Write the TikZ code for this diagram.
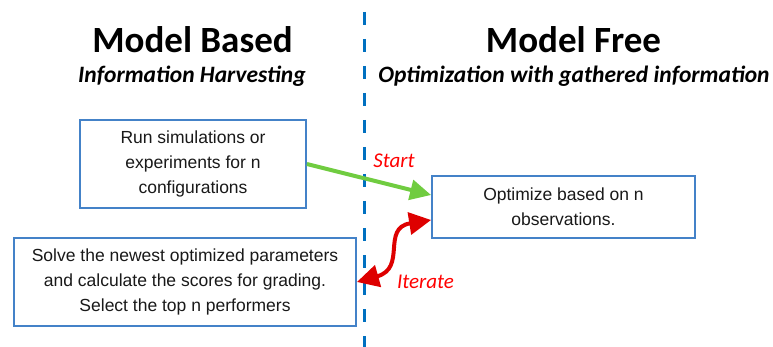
\documentclass[tikz,border=0pt]{standalone}
\usepackage{fontspec}
\setmainfont{Liberation Sans}
\newfontfamily\calibri{Carlito}
\usepackage{xcolor}
\usepackage{tikz}
\usetikzlibrary{arrows.meta, calc}

\definecolor{boxblue}{RGB}{68,130,200}
\definecolor{dashblue}{RGB}{0,112,192}
\definecolor{startgreen}{RGB}{112,204,64}
\definecolor{iterred}{RGB}{222,0,0}

\begin{document}
\begin{tikzpicture}[
    x=1pt, y=1pt,
    heading/.style={anchor=base, font=\calibri\bfseries\fontsize{37}{40}\selectfont},
    subheading/.style={anchor=base, font=\calibri\bfseries\itshape\fontsize{23.5}{28}\selectfont},
    block/.style={rectangle, draw=boxblue, line width=1.8pt, fill=white, align=center, inner sep=0pt,
        font=\fontsize{17.5}{25}\selectfont, text=black!90},
    redlabel/.style={anchor=base, text=red, font=\calibri\itshape\fontsize{21}{24}\selectfont},
    line/.style={draw, line width=4pt, -{Triangle[length=21pt,width=20pt]}}
]
\useasboundingbox (0,0) rectangle (773,-347);

% divider
\draw [dashblue, line width=3pt, dash pattern=on 13pt off 14pt] (364.5,-12) -- (364.5,-347);

% Model Based side
\node [heading] (mb) at (192.5,-53) {Model Based};
\node [subheading] (mbsub) at (192,-83) {Information Harvesting};

% Model Free side
\node [heading] (mf) at (573.5,-53) {Model Free};
\node [subheading] (mfsub) at (574,-83) {Optimization with gathered information};

% Blocks
\node [block, minimum width=226pt, minimum height=88pt] (run) at (193,-164)
    {Run simulations or\\ experiments for n\\ configurations};
\node [block, minimum width=263pt, minimum height=62pt] (opt) at (563.5,-207)
    {Optimize based on n\\ observations.};
\node [block, minimum width=342pt, minimum height=88pt] (solve) at (185,-282)
    {Solve the newest optimized parameters\\ and calculate the scores for grading.\\ Select the top n performers};

% Connections
\draw [line, startgreen] (run.east) -- ($(opt.west)+(0,12)$);
\draw [line, iterred, {Triangle[length=22pt,width=22pt]}-{Triangle[length=22pt,width=22pt]}]
    (solve.east) .. controls (407,-268) and (381,-228) .. ($(opt.west)+(0,-13)$);

% Labels
\node [redlabel] (start) at (394,-168) {Start};
\node [redlabel] (iter) at (425.5,-288) {Iterate};

\end{tikzpicture}
\end{document}
